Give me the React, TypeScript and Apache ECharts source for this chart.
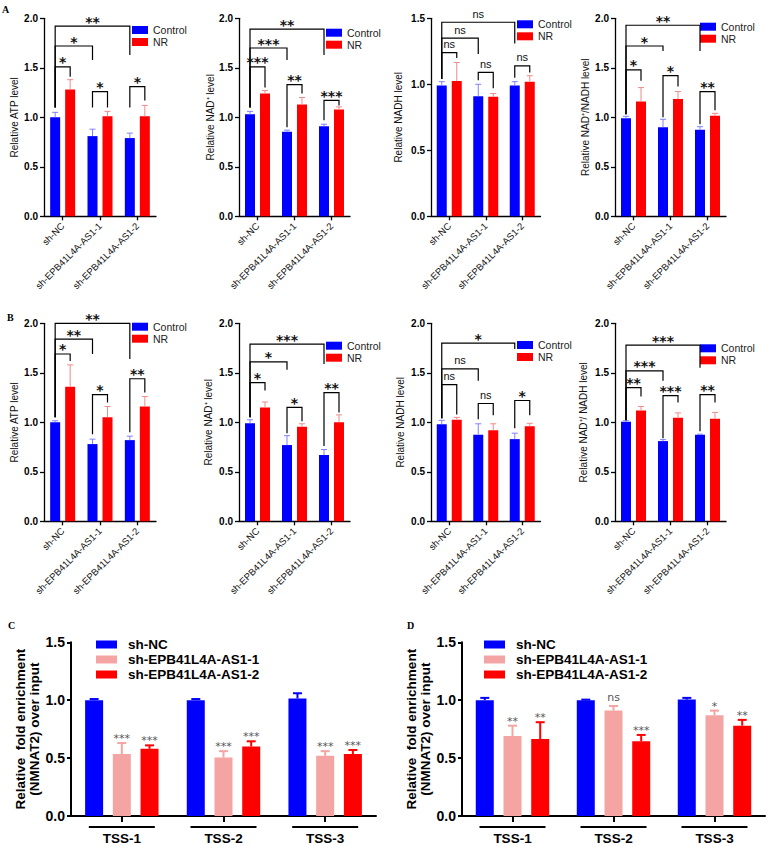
import React, { useEffect, useRef } from 'react';
import * as echarts from 'echarts';

// ---------- data ----------
const groups = ['sh-NC', 'sh-EPB41L4A-AS1-1', 'sh-EPB41L4A-AS1-2'];
const treatments = ['Control', 'NR'];
const knockdowns = ['sh-NC', 'sh-EPB41L4A-AS1-1', 'sh-EPB41L4A-AS1-2'];
const sites = ['TSS-1', 'TSS-2', 'TSS-3'];

// bracket rows: [label, cat1, bar1, cat2, bar2, yLine, yLeftEnd, yRightEnd]
// Panel A
const aAtpCtrl = [1.0, 0.81, 0.79];
const aAtpCtrlErr = [0.05, 0.07, 0.05];
const aAtpNR = [1.28, 1.01, 1.01];
const aAtpNRErr = [0.1, 0.05, 0.11];
const aAtpSig: any[] = [
  ['**', 0, 0, 2, 0, 1.92, 1.1, 1.63],
  ['*', 0, 0, 1, 0, 1.72, 1.1, 1.58],
  ['*', 0, 0, 0, 1, 1.51, 1.1, 1.41],
  ['*', 1, 0, 1, 1, 1.26, 1.1, 1.1],
  ['*', 2, 0, 2, 1, 1.31, 1.1, 1.17],
];
const aNadCtrl = [1.03, 0.855, 0.91];
const aNadCtrlErr = [0.03, 0.015, 0.02];
const aNadNR = [1.24, 1.13, 1.08];
const aNadNRErr = [0.03, 0.07, 0.025];
const aNadSig: any[] = [
  ['**', 0, 0, 2, 0, 1.89, 1.1, 1.63],
  ['***', 0, 0, 1, 0, 1.7, 1.1, 1.58],
  ['***', 0, 0, 0, 1, 1.51, 1.1, 1.3],
  ['**', 1, 0, 1, 1, 1.33, 0.9, 1.24],
  ['***', 2, 0, 2, 1, 1.17, 0.97, 1.12],
];
const aNadhCtrl = [0.99, 0.91, 0.99];
const aNadhCtrlErr = [0.03, 0.09, 0.03];
const aNadhNR = [1.025, 0.905, 1.02];
const aNadhNRErr = [0.14, 0.025, 0.045];
const aNadhSig: any[] = [
  ['ns', 0, 0, 2, 0, 1.47, 1.04, 1.31],
  ['ns', 0, 0, 1, 0, 1.35, 1.04, 1.23],
  ['ns', 0, 0, 0, 1, 1.24, 1.04, 1.2],
  ['ns', 1, 0, 1, 1, 1.09, 1.03, 0.97],
  ['ns', 2, 0, 2, 1, 1.14, 1.05, 1.09],
];
const aRatioCtrl = [0.99, 0.9, 0.875];
const aRatioCtrlErr = [0.02, 0.08, 0.03];
const aRatioNR = [1.16, 1.185, 1.015];
const aRatioNRErr = [0.14, 0.075, 0.025];
const aRatioSig: any[] = [
  ['**', 0, 0, 2, 0, 1.93, 1.03, 1.67],
  ['*', 0, 0, 1, 0, 1.72, 1.03, 1.67],
  ['*', 0, 0, 0, 1, 1.48, 1.03, 1.37],
  ['*', 1, 0, 1, 1, 1.42, 1.0, 1.31],
  ['**', 2, 0, 2, 1, 1.26, 0.93, 1.07],
];

// Panel B
const bAtpCtrl = [1.0, 0.78, 0.82];
const bAtpCtrlErr = [0.015, 0.05, 0.04];
const bAtpNR = [1.36, 1.05, 1.16];
const bAtpNRErr = [0.22, 0.11, 0.1];
const bAtpSig: any[] = [
  ['**', 0, 0, 2, 0, 2.0, 1.05, 1.64],
  ['**', 0, 0, 1, 0, 1.84, 1.05, 1.69],
  ['*', 0, 0, 0, 1, 1.69, 1.05, 1.62],
  ['*', 1, 0, 1, 1, 1.28, 0.88, 1.2],
  ['**', 2, 0, 2, 1, 1.44, 0.9, 1.3],
];
const bNadCtrl = [0.99, 0.77, 0.67];
const bNadCtrlErr = [0.035, 0.095, 0.055];
const bNadNR = [1.15, 0.955, 1.0];
const bNadNRErr = [0.055, 0.03, 0.075];
const bNadSig: any[] = [
  ['***', 0, 0, 2, 0, 1.79, 1.05, 1.59],
  ['*', 0, 0, 1, 0, 1.61, 1.05, 1.53],
  ['*', 0, 0, 0, 1, 1.4, 1.05, 1.32],
  ['*', 1, 0, 1, 1, 1.15, 0.89, 1.01],
  ['**', 2, 0, 2, 1, 1.3, 0.76, 1.1],
];
const bNadhCtrl = [0.98, 0.875, 0.83];
const bNadhCtrlErr = [0.04, 0.11, 0.06];
const bNadhNR = [1.025, 0.92, 0.96];
const bNadhNRErr = [0.025, 0.065, 0.03];
const bNadhSig: any[] = [
  ['*', 0, 0, 2, 0, 1.8, 1.04, 1.74],
  ['ns', 0, 0, 1, 0, 1.54, 1.04, 1.42],
  ['ns', 0, 0, 0, 1, 1.38, 1.04, 1.08],
  ['ns', 1, 0, 1, 1, 1.19, 1.03, 1.07],
  ['*', 2, 0, 2, 1, 1.22, 0.94, 1.07],
];
const bRatioCtrl = [1.005, 0.81, 0.875];
const bRatioCtrlErr = [0.01, 0.015, 0.005];
const bRatioNR = [1.12, 1.045, 1.035];
const bRatioNRErr = [0.04, 0.05, 0.065];
const bRatioSig: any[] = [
  ['***', 0, 0, 2, 0, 1.78, 1.02, 1.55],
  ['***', 0, 0, 1, 0, 1.52, 1.02, 1.42],
  ['**', 0, 0, 0, 1, 1.35, 1.02, 1.26],
  ['***', 1, 0, 1, 1, 1.27, 0.84, 1.2],
  ['**', 2, 0, 2, 1, 1.28, 0.91, 1.2],
];

// Panel C
const cNC = [1.0, 1.0, 1.015];
const cNCErr = [0.01, 0.01, 0.045];
const cKd1 = [0.535, 0.505, 0.52];
const cKd1Err = [0.095, 0.055, 0.04];
const cKd2 = [0.58, 0.6, 0.535];
const cKd2Err = [0.03, 0.045, 0.035];
const cKd1Sig = ['***', '***', '***'];
const cKd2Sig = ['***', '***', '***'];

// Panel D
const dNC = [1.0, 1.0, 1.005];
const dNCErr = [0.02, 0.005, 0.015];
const dKd1 = [0.69, 0.91, 0.87];
const dKd1Err = [0.09, 0.04, 0.04];
const dKd2 = [0.665, 0.645, 0.78];
const dKd2Err = [0.145, 0.055, 0.05];
const dKd1Sig = ['**', 'ns', '*'];
const dKd2Sig = ['**', '***', '**'];

// ---------- styling ----------
const SANS = 'Liberation Sans, Arial, Helvetica, sans-serif';
const BLUE = '#0000ff';
const RED = '#ff0000';
const PINK = '#f5a4a4';
const BLUE_ERR = '#8080ff';
const RED_ERR = '#f08a8a';

function errorSeries(gi: number, means: number[], errs: number[], slot: number, nSlots: number, pitch: number,
  capHalf: number, color: string, lw: number, labels?: string[]) {
  return {
    type: 'custom', xAxisIndex: gi, yAxisIndex: gi, clip: false, silent: true, z: 4,
    data: means.map((m, i) => [i, m, errs[i]]),
    renderItem: (params: any, api: any) => {
      const i = api.value(0), m = api.value(1), e = api.value(2);
      const base = api.coord([i, m]);
      const top = api.coord([i, m + e]);
      const x = base[0] + (slot - (nSlots - 1) / 2) * pitch;
      const children: any[] = [
        { type: 'line', shape: { x1: x, y1: base[1], x2: x, y2: top[1] }, style: { stroke: color, lineWidth: lw } },
        { type: 'line', shape: { x1: x - capHalf, y1: top[1], x2: x + capHalf, y2: top[1] }, style: { stroke: color, lineWidth: lw } },
      ];
      if (labels) {
        const t = labels[params.dataIndex];
        children.push({
          type: 'text', x, y: top[1] + (t === 'ns' ? -3 : 1),
          style: { text: t, fill: '#555', fontSize: 11, fontFamily: 'DejaVu Sans, sans-serif',
            align: 'center', textAlign: 'center', verticalAlign: 'bottom', textVerticalAlign: 'bottom' },
        });
      }
      return { type: 'group', children };
    },
  };
}

function bracketSeries(gi: number, rows: any[], pitch: number) {
  return {
    type: 'custom', xAxisIndex: gi, yAxisIndex: gi, clip: false, silent: true, z: 5,
    data: rows.map((r) => [r[1], r[5], r[2], r[3], r[4], r[6], r[7]]),
    renderItem: (params: any, api: any) => {
      const label = rows[params.dataIndex][0];
      const c1 = api.value(0), yv = api.value(1), s1 = api.value(2), c2 = api.value(3), s2 = api.value(4);
      const off = (s: number) => (s - 0.5) * pitch;
      const pL = api.coord([c1, yv]);
      const pR = api.coord([c2, yv]);
      const xL = pL[0] + off(s1);
      const xR = pR[0] + off(s2);
      const y = pL[1];
      const yL = api.coord([c1, api.value(5)])[1];
      const yR = api.coord([c2, api.value(6)])[1];
      const isNs = label === 'ns';
      return {
        type: 'group',
        children: [
          { type: 'polyline', shape: { points: [[xL, yL], [xL, y], [xR, y], [xR, yR]] },
            style: { stroke: '#000', lineWidth: 1.2, fill: 'none' } },
          { type: 'text', x: (xL + xR) / 2, y: y + (isNs ? -3 : 2.5),
            style: { text: label, fill: '#111',
              fontSize: isNs ? 11 : 14, fontWeight: isNs ? 'normal' : 'bold',
              fontFamily: isNs ? SANS : 'DejaVu Sans, sans-serif',
              align: 'center', textAlign: 'center', verticalAlign: 'bottom', textVerticalAlign: 'bottom' } },
        ],
      };
    },
  };
}

const barCharts = [
  { ctrl: aAtpCtrl, ctrlErr: aAtpCtrlErr, nr: aAtpNR, nrErr: aAtpNRErr, sig: aAtpSig, max: 2, name: 'Relative ATP level',
    left: 44, top: 18.3, width: 112, gap: 25, lgLeft: 132, lgTop: 24 },
  { ctrl: aNadCtrl, ctrlErr: aNadCtrlErr, nr: aNadNR, nrErr: aNadNRErr, sig: aNadSig, max: 2, name: 'Relative NAD\u207A level',
    left: 239, top: 18.3, width: 111, gap: 22, lgLeft: 326, lgTop: 26.7 },
  { ctrl: aNadhCtrl, ctrlErr: aNadhCtrlErr, nr: aNadhNR, nrErr: aNadhNRErr, sig: aNadhSig, max: 1.5, name: 'Relative NADH level',
    left: 431, top: 18.3, width: 109.5, gap: 28, lgLeft: 517, lgTop: 18.3 },
  { ctrl: aRatioCtrl, ctrlErr: aRatioCtrlErr, nr: aRatioNR, nrErr: aRatioNRErr, sig: aRatioSig, max: 2, name: 'Relative NAD\u207A/NADH level',
    left: 615, top: 18.3, width: 111, gap: 25, lgLeft: 700, lgTop: 20.7 },
  { ctrl: bAtpCtrl, ctrlErr: bAtpCtrlErr, nr: bAtpNR, nrErr: bAtpNRErr, sig: bAtpSig, max: 2, name: 'Relative ATP level',
    left: 44, top: 323.3, width: 112, gap: 25, lgLeft: 132, lgTop: 320.7 },
  { ctrl: bNadCtrl, ctrlErr: bNadCtrlErr, nr: bNadNR, nrErr: bNadNRErr, sig: bNadSig, max: 2, name: 'Relative NAD\u207A level',
    left: 239, top: 323.3, width: 111, gap: 26, lgLeft: 326, lgTop: 339.7 },
  { ctrl: bNadhCtrl, ctrlErr: bNadhCtrlErr, nr: bNadhNR, nrErr: bNadhNRErr, sig: bNadhSig, max: 2, name: 'Relative NADH level',
    left: 431, top: 323.3, width: 109.5, gap: 26, lgLeft: 517, lgTop: 339 },
  { ctrl: bRatioCtrl, ctrlErr: bRatioCtrlErr, nr: bRatioNR, nrErr: bRatioNRErr, sig: bRatioSig, max: 2, name: 'Relative NAD\u207A/ NADH level',
    left: 615, top: 323.3, width: 111, gap: 27, lgLeft: 700, lgTop: 342.3 },
];

const chipCharts = [
  { nc: cNC, ncErr: cNCErr, k1: cKd1, k1Err: cKd1Err, k2: cKd2, k2Err: cKd2Err, s1: cKd1Sig, s2: cKd2Sig,
    left: 71, width: 305, lgLeft: 96, gap: 23.5 },
  { nc: dNC, ncErr: dNCErr, k1: dKd1, k1Err: dKd1Err, k2: dKd2, k2Err: dKd2Err, s1: dKd1Sig, s2: dKd2Sig,
    left: 462, width: 303, lgLeft: 484, gap: 24 },
];

function buildOption() {
  const grid: any[] = [], xAxis: any[] = [], yAxis: any[] = [], series: any[] = [], legend: any[] = [];
  const axisLine = { show: true, lineStyle: { color: '#000', width: 1.3 } };
  const pitchAB = 15;
  barCharts.forEach((c, gi) => {
    grid.push({ left: c.left, top: c.top, width: c.width, height: 198 });
    xAxis.push({
      type: 'category', gridIndex: gi, data: groups,
      axisLine, axisTick: { show: true, alignWithLabel: true, length: 4, lineStyle: { color: '#000', width: 1.3 } },
      axisLabel: { rotate: 45, interval: 0, fontSize: 9.5, color: '#111', margin: 8, fontFamily: SANS },
    });
    yAxis.push({
      type: 'value', gridIndex: gi, min: 0, max: c.max, interval: 0.5,
      axisLine, axisTick: { show: true, length: 4, lineStyle: { color: '#000', width: 1.3 } },
      splitLine: { show: false },
      axisLabel: { formatter: (v: number) => v.toFixed(1), fontSize: 10, fontWeight: 'bold', color: '#000', margin: 6, fontFamily: SANS },
      name: c.name, nameLocation: 'middle', nameGap: c.gap,
      nameTextStyle: { fontSize: 10, color: '#111', fontFamily: SANS },
    });
    series.push({ type: 'bar', name: treatments[0], xAxisIndex: gi, yAxisIndex: gi, data: c.ctrl, barWidth: 10, barGap: '50%',
      itemStyle: { color: BLUE }, silent: true });
    series.push({ type: 'bar', name: treatments[1], xAxisIndex: gi, yAxisIndex: gi, data: c.nr, barWidth: 10, barGap: '50%',
      itemStyle: { color: RED }, silent: true });
    series.push(errorSeries(gi, c.ctrl, c.ctrlErr, 0, 2, pitchAB, 3, BLUE_ERR, 1));
    series.push(errorSeries(gi, c.nr, c.nrErr, 1, 2, pitchAB, 3, RED_ERR, 1));
    series.push(bracketSeries(gi, c.sig, pitchAB));
    legend.push({
      left: c.lgLeft, top: c.lgTop, orient: 'vertical', padding: 0, itemGap: 0, itemWidth: 16, itemHeight: 8,
      icon: 'rect', selectedMode: false, data: treatments,
      textStyle: { fontSize: 10.5, color: '#222', lineHeight: 12, fontFamily: SANS },
    });
  });

  const pitchCD = 27.7;
  chipCharts.forEach((c, k) => {
    const gi = 8 + k;
    grid.push({ left: c.left, top: 642.3, width: c.width, height: 173.7 });
    xAxis.push({
      type: 'category', gridIndex: gi, data: sites,
      axisLine: { show: true, lineStyle: { color: '#000', width: 2 } },
      axisTick: { show: true, alignWithLabel: true, length: 6, lineStyle: { color: '#000', width: 2 } },
      axisLabel: { fontSize: 13.5, fontWeight: 'bold', color: '#000', margin: 15, fontFamily: SANS },
    });
    yAxis.push({
      type: 'value', gridIndex: gi, min: 0, max: 1.5, interval: 0.5,
      axisLine: { show: true, lineStyle: { color: '#000', width: 2 } },
      axisTick: { show: true, length: 4, lineStyle: { color: '#000', width: 2 } },
      splitLine: { show: false },
      axisLabel: { formatter: (v: number) => v.toFixed(1), fontSize: 14, fontWeight: 'bold', color: '#000', margin: 6, fontFamily: SANS },
      name: 'Relative  fold enrichment\n(NMNAT2) over input', nameLocation: 'middle', nameGap: c.gap,
      nameTextStyle: { fontSize: 13.5, fontWeight: 'bold', color: '#000', lineHeight: 14, fontFamily: SANS },
    });
    const cols = [BLUE, PINK, RED];
    const vals = [c.nc, c.k1, c.k2];
    const errs = [c.ncErr, c.k1Err, c.k2Err];
    const sigs = [undefined, c.s1, c.s2];
    vals.forEach((v, s) => {
      series.push({ type: 'bar', name: knockdowns[s], xAxisIndex: gi, yAxisIndex: gi, data: v, barWidth: 18, barGap: '54%',
        itemStyle: { color: cols[s] }, silent: true });
    });
    vals.forEach((v, s) => {
      series.push(errorSeries(gi, v, errs[s], s, 3, pitchCD, 4.5, cols[s], 2, sigs[s] as any));
    });
    // group underlines below the axis
    series.push({
      type: 'custom', xAxisIndex: gi, yAxisIndex: gi, clip: false, silent: true,
      data: sites.map((_, i) => [i, 0]),
      renderItem: (params: any, api: any) => {
        const p = api.coord([api.value(0), 0]);
        return { type: 'line', shape: { x1: p[0] - 33, y1: p[1] + 11, x2: p[0] + 33, y2: p[1] + 11 },
          style: { stroke: '#000', lineWidth: 2 } };
      },
    });
    legend.push({
      left: c.lgLeft, top: 637, orient: 'vertical', padding: 0, itemGap: 0, itemWidth: 21, itemHeight: 8,
      icon: 'rect', selectedMode: false, data: knockdowns,
      textStyle: { fontSize: 13.5, fontWeight: 'bold', color: '#000', lineHeight: 15, fontFamily: SANS, padding: [0, 0, 0, 6] },
    });
  });

  const letter = (t: string, x: number, y: number) => ({
    type: 'text', left: x, top: y,
    style: { text: t, fill: '#000', fontSize: 10, fontWeight: 'bold', fontFamily: 'Liberation Serif, Times New Roman, serif' },
  });

  return {
    animation: false,
    backgroundColor: '#fff',
    grid, xAxis, yAxis, series, legend,
    graphic: [letter('A', 2, 4), letter('B', 7, 312), letter('C', 8, 620), letter('D', 407, 620)],
  };
}

export default function App() {
  const ref = useRef<HTMLDivElement>(null);
  useEffect(() => {
    if (!ref.current) return;
    const chart = echarts.init(ref.current, undefined, { renderer: 'svg' });
    chart.setOption(buildOption() as any);
    return () => chart.dispose();
  }, []);
  return <div ref={ref} style={{ position: 'absolute', left: 0, top: 0, width: 769, height: 846, background: '#fff' }} />;
}
